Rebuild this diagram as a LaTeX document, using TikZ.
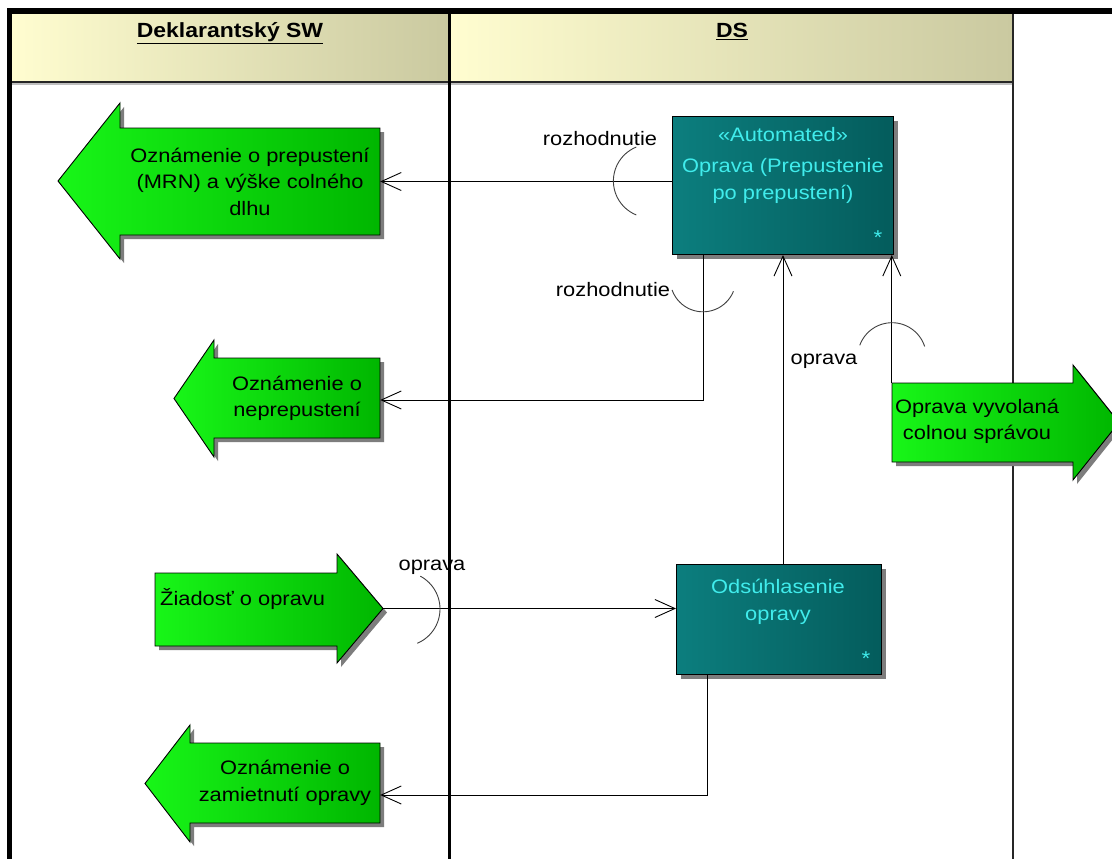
\documentclass[tikz,border=0pt]{standalone}
\usepackage{fontspec}
\setmainfont{Liberation Sans}[FakeStretch=1.12]
\usetikzlibrary{arrows.meta,calc,shadows}

\definecolor{gL}{RGB}{24,246,24}
\definecolor{gR}{RGB}{0,182,0}
\definecolor{tL}{RGB}{12,126,126}
\definecolor{tR}{RGB}{4,92,92}
\definecolor{tText}{RGB}{64,236,236}
\definecolor{hL}{RGB}{255,253,208}
\definecolor{hR}{RGB}{202,201,160}
\definecolor{shade}{RGB}{125,125,125}

\tikzset{
  txt/.style={font=\fontsize{19.5}{26.5}\selectfont, align=center, inner sep=0pt},
  lbl/.style={font=\fontsize{19.5}{24}\selectfont, inner sep=0pt},
  hdr/.style={font=\fontsize{20.5}{24}\bfseries\selectfont, inner sep=0pt, anchor=base},
  shd/.style={drop shadow={shadow xshift=4pt, shadow yshift=-4pt, fill=shade, opacity=1}},
  garrow/.style={shd, draw=black, line width=0.9pt, left color=gL, right color=gR},
  body/.style={txt, minimum width=#1},
  tbox/.style={shd, draw=black, line width=1pt, left color=tL, right color=tR,
               inner sep=0pt, anchor=north west},
  star/.style={text=tText, font=\fontsize{20}{20}\selectfont, inner sep=0pt},
  conn/.style={line width=1pt, -{Straight Barb[length=20pt,width=18pt,line width=0.9pt]}},
  sock/.style={line width=0.9pt, draw=black!75},
}

\begin{document}
\begin{tikzpicture}[x=1pt,y=-1pt]
\useasboundingbox (0,0) rectangle (1112,859);
\fill[white] (0,0) rectangle (1112,859);

% swimlane headers
\shade[left color=hL, right color=hR] (12,14) rectangle (449,82);
\shade[left color=hL, right color=hR] (451,14) rectangle (1013,82);
\fill[black!25] (12,83) rectangle (1013,85);
\draw[line width=1.5pt, black!85] (12,82) -- (1013,82);
\node[hdr] (h1) at (230,37.5) {\underline{Deklarantský SW}};
\node[hdr] (h2) at (732,37.5) {\underline{DS}};

% right border of the DS lane
\draw[line width=1.6pt, black!85] (1013,14) -- (1013,859);

% labels of the connector sockets
\node[lbl] (l1) at (600,139) {rozhodnutie};
\node[lbl] (l2) at (613,290) {rozhodnutie};
\node[lbl] (l3) at (824,361) {oprava};
\node[lbl] (l4) at (432,567) {oprava};

% outgoing / incoming signals (green arrows)
\path[garrow] (380,128) -- (120,128) -- (120,103) -- (58,181) -- (120,259)
  -- (120,235) -- (380,235) -- cycle;
\node[body=260pt, minimum height=107pt] (a1) at (250,181.5)
  {Oznámenie o prepustení\\(MRN) a výške colného\\dlhu};

\path[garrow] (380,358) -- (214,358) -- (214,340) -- (174,398.5) -- (214,457)
  -- (214,438) -- (380,438) -- cycle;
\node[body=166pt, minimum height=80pt] (a2) at (297,398.5)
  {Oznámenie o\\neprepustení};

\path[garrow] (155,573) -- (337,573) -- (337,554) -- (383,608.5) -- (337,663)
  -- (337,646) -- (155,646) -- cycle;
\node[body=182pt, minimum height=73pt] (a3) at (246,609.5) {};
\node[lbl, anchor=base west] at (160,605) {Žiadosť o opravu};
\coordinate (t3) at (383,608.5);

\path[garrow] (380,743) -- (190,743) -- (190,725) -- (145,783.5) -- (190,842)
  -- (190,823) -- (380,823) -- cycle;
\node[body=190pt, minimum height=80pt] (a4) at (285,783)
  {Oznámenie o\\zamietnutí opravy};

\path[garrow] (892,383) -- (1073,383) -- (1073,365) -- (1119,422.5) -- (1073,480)
  -- (1073,462) -- (892,462) -- cycle;
\node[body=181pt, minimum height=79pt] (a5) at (982.5,422.5) {};
\node[txt] at (977,421.5) {Oprava vyvolaná\\colnou správou};

% actions (teal boxes)
\node[tbox, minimum width=221pt, minimum height=138pt] (b1) at (672,116) {};
\node[txt, text=tText] at (783,135) {«Automated»};
\node[txt, text=tText] at (783,181) {Oprava (Prepustenie\\po prepustení)};
\node[star] at (878,238) {*};

\node[tbox, minimum width=205pt, minimum height=110pt] (b2) at (676,564) {};
\node[txt, text=tText] at (778,602) {Odsúhlasenie\\opravy};
\node[star] at (866,659) {*};

% object flows
\draw[conn] (b1.west |- a1.east) -- (a1.east);
\coordinate (p2) at ($(b1.south west)+(31,0)$);
\draw[conn] (p2) |- ($(a2.east)+(0,1.5)$);
\draw[conn] (b1.south |- b2.north) -- (b1.south);
\draw[conn] (a5.north west) -- (a5.north west |- b1.south);
\coordinate (p4) at ($(b2.south west)+(31,0)$);
\draw[conn] (p4) |- ($(a4.east)+(0,12)$);
\draw[conn] (t3) -- (b2.west |- t3);

% sockets on the flows
\draw[sock] plot[domain=112:248, samples=40] ({650+36.6*cos(\x)},{181-36.6*sin(\x)});
\draw[sock] plot[domain=199.5:338, samples=40] ({703+32.8*cos(\x)},{279-32.8*sin(\x)});
\draw[sock] plot[domain=18:160, samples=40] ({892+34.3*cos(\x)},{357-34.3*sin(\x)});
\draw[sock] plot[domain=-67:62, samples=40] ({402.8+37.2*cos(\x)},{609-37.2*sin(\x)});

% outer frame and lane divider
\fill[black] (7,8) rectangle (1112,14);
\fill[black] (7,8) rectangle (12,859);
\fill[black] (448,14) rectangle (451,859);
\end{tikzpicture}
\end{document}
